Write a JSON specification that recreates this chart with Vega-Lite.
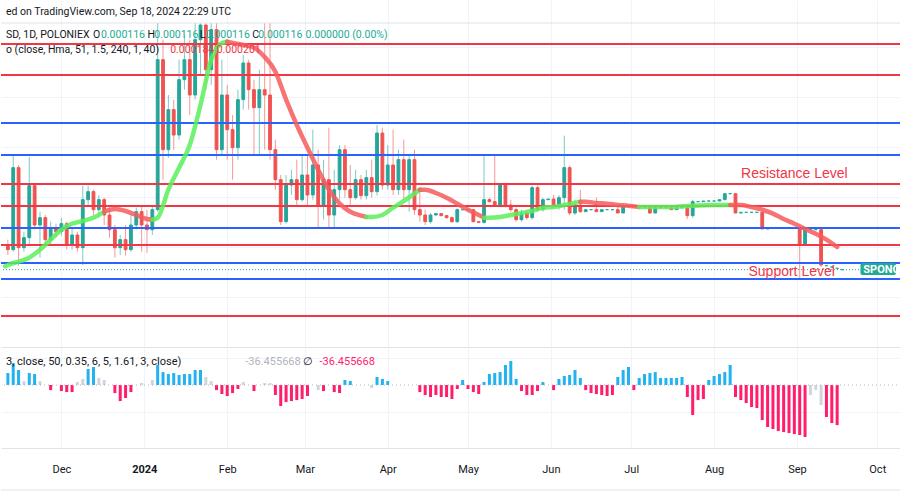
{
  "$schema": "https://vega.github.io/schema/vega-lite/v6.json",
  "padding": 0,
  "background": "#ffffff",
  "spacing": 0,
  "datasets": {
    "candles": [
      {"date":"2023-11-11","open":0.000153,"high":0.000161,"low":0.000138,"close":0.000146},
      {"date":"2023-11-13","open":0.000146,"high":0.000288,"low":0.000143,"close":0.000269},
      {"date":"2023-11-15","open":0.000269,"high":0.000273,"low":0.000122,"close":0.000149},
      {"date":"2023-11-17","open":0.000149,"high":0.000173,"low":0.000143,"close":0.000164},
      {"date":"2023-11-19","open":0.000164,"high":0.000285,"low":0.000153,"close":0.000242},
      {"date":"2023-11-21","open":0.000242,"high":0.000246,"low":0.000176,"close":0.000183},
      {"date":"2023-11-23","open":0.000183,"high":0.000203,"low":0.000134,"close":0.000194},
      {"date":"2023-11-25","open":0.000194,"high":0.000198,"low":0.000153,"close":0.000161},
      {"date":"2023-11-27","open":0.000161,"high":0.000188,"low":0.000153,"close":0.000179},
      {"date":"2023-11-29","open":0.000179,"high":0.000185,"low":0.000164,"close":0.000173},
      {"date":"2023-12-01","open":0.000173,"high":0.000194,"low":0.000167,"close":0.000185},
      {"date":"2023-12-03","open":0.000185,"high":0.000188,"low":0.000146,"close":0.000153},
      {"date":"2023-12-05","open":0.000153,"high":0.000179,"low":0.000146,"close":0.000168},
      {"date":"2023-12-07","open":0.000168,"high":0.000173,"low":0.000143,"close":0.000149},
      {"date":"2023-12-09","open":0.000149,"high":0.000242,"low":0.000123,"close":0.000221},
      {"date":"2023-12-11","open":0.000221,"high":0.000242,"low":0.000213,"close":0.000233},
      {"date":"2023-12-13","open":0.000233,"high":0.000236,"low":0.000198,"close":0.000206},
      {"date":"2023-12-15","open":0.000206,"high":0.000228,"low":0.000194,"close":0.000221},
      {"date":"2023-12-17","open":0.000221,"high":0.000224,"low":0.000183,"close":0.000198},
      {"date":"2023-12-19","open":0.000198,"high":0.000213,"low":0.000164,"close":0.000176},
      {"date":"2023-12-21","open":0.000176,"high":0.000183,"low":0.000134,"close":0.000149},
      {"date":"2023-12-23","open":0.000149,"high":0.000168,"low":0.000138,"close":0.000161},
      {"date":"2023-12-25","open":0.000161,"high":0.000183,"low":0.000137,"close":0.000146},
      {"date":"2023-12-27","open":0.000146,"high":0.000198,"low":0.000143,"close":0.000183},
      {"date":"2023-12-29","open":0.000183,"high":0.000209,"low":0.000176,"close":0.000203},
      {"date":"2023-12-31","open":0.000203,"high":0.000213,"low":0.000143,"close":0.000183},
      {"date":"2024-01-02","open":0.000183,"high":0.000206,"low":0.000141,"close":0.000176},
      {"date":"2024-01-04","open":0.000176,"high":0.000213,"low":0.000168,"close":0.000206},
      {"date":"2024-01-06","open":0.000206,"high":0.000486,"low":0.000203,"close":0.000431},
      {"date":"2024-01-08","open":0.000431,"high":0.000461,"low":0.000251,"close":0.000296},
      {"date":"2024-01-10","open":0.000296,"high":0.000378,"low":0.000284,"close":0.000356},
      {"date":"2024-01-12","open":0.000356,"high":0.000371,"low":0.000296,"close":0.000318},
      {"date":"2024-01-14","open":0.000318,"high":0.000431,"low":0.000311,"close":0.000401},
      {"date":"2024-01-16","open":0.000401,"high":0.000468,"low":0.000386,"close":0.000431},
      {"date":"2024-01-18","open":0.000431,"high":0.000461,"low":0.000348,"close":0.000378},
      {"date":"2024-01-20","open":0.000378,"high":0.000486,"low":0.000371,"close":0.000461},
      {"date":"2024-01-22","open":0.000461,"high":0.000486,"low":0.000408,"close":0.000483},
      {"date":"2024-01-24","open":0.000483,"high":0.000486,"low":0.000386,"close":0.000416},
      {"date":"2024-01-26","open":0.000416,"high":0.000486,"low":0.000393,"close":0.000476},
      {"date":"2024-01-28","open":0.000476,"high":0.000486,"low":0.000281,"close":0.000296},
      {"date":"2024-01-30","open":0.000296,"high":0.000431,"low":0.000288,"close":0.000378},
      {"date":"2024-02-01","open":0.000378,"high":0.000393,"low":0.000281,"close":0.000326},
      {"date":"2024-02-03","open":0.000326,"high":0.000348,"low":0.000251,"close":0.000299},
      {"date":"2024-02-05","open":0.000299,"high":0.000386,"low":0.000281,"close":0.000371},
      {"date":"2024-02-07","open":0.000371,"high":0.000438,"low":0.000356,"close":0.000426},
      {"date":"2024-02-09","open":0.000426,"high":0.000431,"low":0.000356,"close":0.000386},
      {"date":"2024-02-11","open":0.000386,"high":0.000401,"low":0.000288,"close":0.000359},
      {"date":"2024-02-13","open":0.000359,"high":0.000416,"low":0.000288,"close":0.000386},
      {"date":"2024-02-15","open":0.000386,"high":0.000486,"low":0.000296,"close":0.000378},
      {"date":"2024-02-17","open":0.000378,"high":0.000486,"low":0.000281,"close":0.000296},
      {"date":"2024-02-19","open":0.000296,"high":0.000311,"low":0.000236,"close":0.000251},
      {"date":"2024-02-21","open":0.000251,"high":0.000258,"low":0.000183,"close":0.000188},
      {"date":"2024-02-23","open":0.000188,"high":0.000258,"low":0.000185,"close":0.000243},
      {"date":"2024-02-25","open":0.000243,"high":0.000266,"low":0.000228,"close":0.000251},
      {"date":"2024-02-27","open":0.000251,"high":0.000281,"low":0.000213,"close":0.000221},
      {"date":"2024-02-29","open":0.000221,"high":0.000288,"low":0.000218,"close":0.000258},
      {"date":"2024-03-02","open":0.000258,"high":0.000288,"low":0.000213,"close":0.000228},
      {"date":"2024-03-04","open":0.000228,"high":0.000326,"low":0.000221,"close":0.000273},
      {"date":"2024-03-06","open":0.000273,"high":0.000296,"low":0.000179,"close":0.000213},
      {"date":"2024-03-08","open":0.000213,"high":0.000281,"low":0.000191,"close":0.000251},
      {"date":"2024-03-10","open":0.000251,"high":0.000329,"low":0.000179,"close":0.000198},
      {"date":"2024-03-12","open":0.000198,"high":0.000266,"low":0.000180,"close":0.000236},
      {"date":"2024-03-14","open":0.000236,"high":0.000303,"low":0.000221,"close":0.000296},
      {"date":"2024-03-16","open":0.000296,"high":0.000303,"low":0.000224,"close":0.000236},
      {"date":"2024-03-18","open":0.000236,"high":0.000273,"low":0.000213,"close":0.000224},
      {"date":"2024-03-20","open":0.000224,"high":0.000266,"low":0.000221,"close":0.000251},
      {"date":"2024-03-22","open":0.000251,"high":0.000258,"low":0.000221,"close":0.000227},
      {"date":"2024-03-24","open":0.000227,"high":0.000266,"low":0.000221,"close":0.000254},
      {"date":"2024-03-26","open":0.000254,"high":0.000281,"low":0.000224,"close":0.000233},
      {"date":"2024-03-28","open":0.000233,"high":0.000333,"low":0.000227,"close":0.000321},
      {"date":"2024-03-30","open":0.000321,"high":0.000329,"low":0.000236,"close":0.000243},
      {"date":"2024-04-01","open":0.000243,"high":0.000303,"low":0.000236,"close":0.000273},
      {"date":"2024-04-03","open":0.000273,"high":0.000326,"low":0.000228,"close":0.000236},
      {"date":"2024-04-05","open":0.000236,"high":0.000296,"low":0.000228,"close":0.000281},
      {"date":"2024-04-07","open":0.000281,"high":0.000311,"low":0.000221,"close":0.000236},
      {"date":"2024-04-09","open":0.000236,"high":0.000288,"low":0.000203,"close":0.000281},
      {"date":"2024-04-11","open":0.000281,"high":0.000296,"low":0.000198,"close":0.000206},
      {"date":"2024-04-13","open":0.000206,"high":0.000236,"low":0.000188,"close":0.000198},
      {"date":"2024-04-15","open":0.000198,"high":0.000206,"low":0.000183,"close":0.000188},
      {"date":"2024-04-17","open":0.000188,"high":0.000201,"low":0.000185,"close":0.000198},
      {"date":"2024-04-19","open":0.000198,"high":0.000201,"low":0.000197,"close":0.000200},
      {"date":"2024-04-21","open":0.000200,"high":0.000201,"low":0.000196,"close":0.000197},
      {"date":"2024-04-23","open":0.000197,"high":0.000198,"low":0.000193,"close":0.000194},
      {"date":"2024-04-25","open":0.000194,"high":0.000196,"low":0.000186,"close":0.000188},
      {"date":"2024-04-27","open":0.000188,"high":0.000208,"low":0.000186,"close":0.000206},
      {"date":"2024-04-29","open":0.000206,"high":0.000207,"low":0.000205,"close":0.000206},
      {"date":"2024-05-01","open":0.000206,"high":0.000207,"low":0.000205,"close":0.000206},
      {"date":"2024-05-03","open":0.000206,"high":0.000207,"low":0.000187,"close":0.000188},
      {"date":"2024-05-05","open":0.000188,"high":0.000188,"low":0.000187,"close":0.000187},
      {"date":"2024-05-07","open":0.000187,"high":0.000288,"low":0.000185,"close":0.000221},
      {"date":"2024-05-09","open":0.000221,"high":0.000224,"low":0.000217,"close":0.000218},
      {"date":"2024-05-11","open":0.000218,"high":0.000288,"low":0.000212,"close":0.000213},
      {"date":"2024-05-13","open":0.000213,"high":0.000246,"low":0.000212,"close":0.000243},
      {"date":"2024-05-15","open":0.000243,"high":0.000246,"low":0.000209,"close":0.000213},
      {"date":"2024-05-17","open":0.000213,"high":0.000221,"low":0.000203,"close":0.000206},
      {"date":"2024-05-19","open":0.000206,"high":0.000209,"low":0.000188,"close":0.000191},
      {"date":"2024-05-21","open":0.000191,"high":0.000206,"low":0.000188,"close":0.000201},
      {"date":"2024-05-23","open":0.000201,"high":0.000206,"low":0.000191,"close":0.000194},
      {"date":"2024-05-25","open":0.000194,"high":0.000242,"low":0.000191,"close":0.000239},
      {"date":"2024-05-27","open":0.000239,"high":0.000242,"low":0.000203,"close":0.000206},
      {"date":"2024-05-29","open":0.000206,"high":0.000224,"low":0.000203,"close":0.000221},
      {"date":"2024-05-31","open":0.000221,"high":0.000222,"low":0.000221,"close":0.000222},
      {"date":"2024-06-02","open":0.000222,"high":0.000228,"low":0.000209,"close":0.000213},
      {"date":"2024-06-04","open":0.000213,"high":0.000228,"low":0.000206,"close":0.000224},
      {"date":"2024-06-06","open":0.000224,"high":0.000317,"low":0.000206,"close":0.000269},
      {"date":"2024-06-08","open":0.000269,"high":0.000272,"low":0.000198,"close":0.000201},
      {"date":"2024-06-10","open":0.000201,"high":0.000221,"low":0.000198,"close":0.000213},
      {"date":"2024-06-12","open":0.000213,"high":0.000236,"low":0.000201,"close":0.000203},
      {"date":"2024-06-14","open":0.000203,"high":0.000206,"low":0.000203,"close":0.000206},
      {"date":"2024-06-16","open":0.000206,"high":0.000206,"low":0.000206,"close":0.000206},
      {"date":"2024-06-18","open":0.000206,"high":0.000224,"low":0.000203,"close":0.000203},
      {"date":"2024-06-20","open":0.000203,"high":0.000206,"low":0.000203,"close":0.000206},
      {"date":"2024-06-22","open":0.000206,"high":0.000206,"low":0.000206,"close":0.000206},
      {"date":"2024-06-24","open":0.000206,"high":0.000206,"low":0.000206,"close":0.000206},
      {"date":"2024-06-26","open":0.000206,"high":0.000213,"low":0.000201,"close":0.000201},
      {"date":"2024-06-28","open":0.000201,"high":0.000212,"low":0.000201,"close":0.000212},
      {"date":"2024-06-30","open":0.000212,"high":0.000212,"low":0.000212,"close":0.000212},
      {"date":"2024-07-02","open":0.000212,"high":0.000212,"low":0.000210,"close":0.000210},
      {"date":"2024-07-04","open":0.000210,"high":0.000210,"low":0.000210,"close":0.000210},
      {"date":"2024-07-06","open":0.000210,"high":0.000210,"low":0.000210,"close":0.000210},
      {"date":"2024-07-08","open":0.000210,"high":0.000213,"low":0.000200,"close":0.000201},
      {"date":"2024-07-10","open":0.000201,"high":0.000209,"low":0.000201,"close":0.000209},
      {"date":"2024-07-12","open":0.000209,"high":0.000209,"low":0.000209,"close":0.000209},
      {"date":"2024-07-14","open":0.000209,"high":0.000209,"low":0.000209,"close":0.000209},
      {"date":"2024-07-16","open":0.000209,"high":0.000209,"low":0.000206,"close":0.000206},
      {"date":"2024-07-18","open":0.000206,"high":0.000209,"low":0.000206,"close":0.000209},
      {"date":"2024-07-20","open":0.000209,"high":0.000209,"low":0.000209,"close":0.000209},
      {"date":"2024-07-22","open":0.000209,"high":0.000213,"low":0.000192,"close":0.000197},
      {"date":"2024-07-24","open":0.000197,"high":0.000221,"low":0.000194,"close":0.000218},
      {"date":"2024-07-26","open":0.000218,"high":0.000218,"low":0.000218,"close":0.000218},
      {"date":"2024-07-28","open":0.000218,"high":0.000219,"low":0.000218,"close":0.000219},
      {"date":"2024-07-30","open":0.000219,"high":0.000219,"low":0.000219,"close":0.000219},
      {"date":"2024-08-01","open":0.000219,"high":0.000219,"low":0.000219,"close":0.000219},
      {"date":"2024-08-03","open":0.000219,"high":0.000221,"low":0.000219,"close":0.000221},
      {"date":"2024-08-05","open":0.000221,"high":0.000230,"low":0.000221,"close":0.000230},
      {"date":"2024-08-07","open":0.000230,"high":0.000230,"low":0.000230,"close":0.000230},
      {"date":"2024-08-09","open":0.000230,"high":0.000231,"low":0.000201,"close":0.000201},
      {"date":"2024-08-11","open":0.000201,"high":0.000202,"low":0.000201,"close":0.000202},
      {"date":"2024-08-13","open":0.000202,"high":0.000202,"low":0.000202,"close":0.000202},
      {"date":"2024-08-15","open":0.000202,"high":0.000202,"low":0.000202,"close":0.000202},
      {"date":"2024-08-17","open":0.000202,"high":0.000202,"low":0.000202,"close":0.000202},
      {"date":"2024-08-19","open":0.000202,"high":0.000202,"low":0.000177,"close":0.000177},
      {"date":"2024-08-21","open":0.000177,"high":0.000178,"low":0.000177,"close":0.000178},
      {"date":"2024-08-23","open":0.000178,"high":0.000178,"low":0.000178,"close":0.000178},
      {"date":"2024-08-25","open":0.000178,"high":0.000178,"low":0.000178,"close":0.000178},
      {"date":"2024-08-27","open":0.000178,"high":0.000178,"low":0.000178,"close":0.000178},
      {"date":"2024-08-29","open":0.000178,"high":0.000178,"low":0.000178,"close":0.000178},
      {"date":"2024-08-31","open":0.000178,"high":0.000178,"low":0.000178,"close":0.000178},
      {"date":"2024-09-02","open":0.000178,"high":0.000178,"low":0.000101,"close":0.000153},
      {"date":"2024-09-04","open":0.000153,"high":0.000176,"low":0.000153,"close":0.000176},
      {"date":"2024-09-06","open":0.000176,"high":0.000176,"low":0.000176,"close":0.000176},
      {"date":"2024-09-08","open":0.000176,"high":0.000176,"low":0.000176,"close":0.000176},
      {"date":"2024-09-10","open":0.000176,"high":0.000176,"low":0.000120,"close":0.000123},
      {"date":"2024-09-12","open":0.000122,"high":0.000122,"low":0.000122,"close":0.000122},
      {"date":"2024-09-14","open":0.000120,"high":0.000120,"low":0.000120,"close":0.000120},
      {"date":"2024-09-16","open":0.000118,"high":0.000118,"low":0.000118,"close":0.000118},
      {"date":"2024-09-18","open":0.000116,"high":0.000116,"low":0.000116,"close":0.000116}
    ],
    "hma": [
      {"date":"2023-11-10","hma":0.000121,"trend":"up","seg":1},
      {"date":"2023-11-11","hma":0.000123,"trend":"up","seg":1},
      {"date":"2023-11-19","hma":0.000134,"trend":"up","seg":1},
      {"date":"2023-11-23","hma":0.000146,"trend":"up","seg":1},
      {"date":"2023-11-27","hma":0.000161,"trend":"up","seg":1},
      {"date":"2023-12-01","hma":0.000176,"trend":"up","seg":1},
      {"date":"2023-12-05","hma":0.000185,"trend":"up","seg":1},
      {"date":"2023-12-09","hma":0.000189,"trend":"up","seg":1},
      {"date":"2023-12-13","hma":0.000194,"trend":"up","seg":1},
      {"date":"2023-12-17","hma":0.000203,"trend":"up","seg":1},
      {"date":"2023-12-17","hma":0.000203,"trend":"down","seg":2},
      {"date":"2023-12-21","hma":0.000207,"trend":"down","seg":2},
      {"date":"2023-12-25","hma":0.000204,"trend":"down","seg":2},
      {"date":"2023-12-29","hma":0.000198,"trend":"down","seg":2},
      {"date":"2024-01-02","hma":0.000192,"trend":"down","seg":2},
      {"date":"2024-01-04","hma":0.000191,"trend":"down","seg":2},
      {"date":"2024-01-04","hma":0.000191,"trend":"up","seg":3},
      {"date":"2024-01-06","hma":0.000194,"trend":"up","seg":3},
      {"date":"2024-01-10","hma":0.000236,"trend":"up","seg":3},
      {"date":"2024-01-14","hma":0.000269,"trend":"up","seg":3},
      {"date":"2024-01-18","hma":0.000303,"trend":"up","seg":3},
      {"date":"2024-01-22","hma":0.000363,"trend":"up","seg":3},
      {"date":"2024-01-26","hma":0.000431,"trend":"up","seg":3},
      {"date":"2024-01-30","hma":0.000456,"trend":"up","seg":3},
      {"date":"2024-02-01","hma":0.000458,"trend":"up","seg":3},
      {"date":"2024-02-01","hma":0.000458,"trend":"down","seg":4},
      {"date":"2024-02-03","hma":0.000456,"trend":"down","seg":4},
      {"date":"2024-02-07","hma":0.000453,"trend":"down","seg":4},
      {"date":"2024-02-11","hma":0.000449,"trend":"down","seg":4},
      {"date":"2024-02-15","hma":0.000435,"trend":"down","seg":4},
      {"date":"2024-02-19","hma":0.000413,"trend":"down","seg":4},
      {"date":"2024-02-23","hma":0.000371,"trend":"down","seg":4},
      {"date":"2024-02-27","hma":0.000333,"trend":"down","seg":4},
      {"date":"2024-03-02","hma":0.000299,"trend":"down","seg":4},
      {"date":"2024-03-06","hma":0.000266,"trend":"down","seg":4},
      {"date":"2024-03-10","hma":0.000236,"trend":"down","seg":4},
      {"date":"2024-03-14","hma":0.000215,"trend":"down","seg":4},
      {"date":"2024-03-18","hma":0.000203,"trend":"down","seg":4},
      {"date":"2024-03-22","hma":0.000197,"trend":"down","seg":4},
      {"date":"2024-03-24","hma":0.000195,"trend":"down","seg":4},
      {"date":"2024-03-24","hma":0.000195,"trend":"up","seg":5},
      {"date":"2024-03-26","hma":0.000195,"trend":"up","seg":5},
      {"date":"2024-03-30","hma":0.000198,"trend":"up","seg":5},
      {"date":"2024-04-03","hma":0.000209,"trend":"up","seg":5},
      {"date":"2024-04-07","hma":0.000219,"trend":"up","seg":5},
      {"date":"2024-04-11","hma":0.000230,"trend":"up","seg":5},
      {"date":"2024-04-13","hma":0.000236,"trend":"up","seg":5},
      {"date":"2024-04-13","hma":0.000236,"trend":"down","seg":6},
      {"date":"2024-04-15","hma":0.000236,"trend":"down","seg":6},
      {"date":"2024-04-19","hma":0.000231,"trend":"down","seg":6},
      {"date":"2024-04-23","hma":0.000224,"trend":"down","seg":6},
      {"date":"2024-04-27","hma":0.000215,"trend":"down","seg":6},
      {"date":"2024-05-01","hma":0.000206,"trend":"down","seg":6},
      {"date":"2024-05-05","hma":0.000198,"trend":"down","seg":6},
      {"date":"2024-05-07","hma":0.000194,"trend":"down","seg":6},
      {"date":"2024-05-07","hma":0.000194,"trend":"up","seg":7},
      {"date":"2024-05-09","hma":0.000194,"trend":"up","seg":7},
      {"date":"2024-05-13","hma":0.000195,"trend":"up","seg":7},
      {"date":"2024-05-17","hma":0.000198,"trend":"up","seg":7},
      {"date":"2024-05-21","hma":0.000201,"trend":"up","seg":7},
      {"date":"2024-05-25","hma":0.000204,"trend":"up","seg":7},
      {"date":"2024-05-29","hma":0.000209,"trend":"up","seg":7},
      {"date":"2024-06-02","hma":0.000210,"trend":"up","seg":7},
      {"date":"2024-06-06","hma":0.000213,"trend":"up","seg":7},
      {"date":"2024-06-10","hma":0.000216,"trend":"up","seg":7},
      {"date":"2024-06-12","hma":0.000218,"trend":"up","seg":7},
      {"date":"2024-06-12","hma":0.000218,"trend":"down","seg":8},
      {"date":"2024-06-14","hma":0.000218,"trend":"down","seg":8},
      {"date":"2024-06-18","hma":0.000216,"trend":"down","seg":8},
      {"date":"2024-06-22","hma":0.000215,"trend":"down","seg":8},
      {"date":"2024-06-26","hma":0.000213,"trend":"down","seg":8},
      {"date":"2024-06-30","hma":0.000212,"trend":"down","seg":8},
      {"date":"2024-07-04","hma":0.000210,"trend":"down","seg":8},
      {"date":"2024-07-04","hma":0.000210,"trend":"up","seg":9},
      {"date":"2024-07-08","hma":0.000210,"trend":"up","seg":9},
      {"date":"2024-07-16","hma":0.000210,"trend":"up","seg":9},
      {"date":"2024-07-24","hma":0.000212,"trend":"up","seg":9},
      {"date":"2024-08-01","hma":0.000213,"trend":"up","seg":9},
      {"date":"2024-08-07","hma":0.000213,"trend":"up","seg":9},
      {"date":"2024-08-07","hma":0.000213,"trend":"down","seg":10},
      {"date":"2024-08-11","hma":0.000213,"trend":"down","seg":10},
      {"date":"2024-08-15","hma":0.000210,"trend":"down","seg":10},
      {"date":"2024-08-19","hma":0.000206,"trend":"down","seg":10},
      {"date":"2024-08-23","hma":0.000200,"trend":"down","seg":10},
      {"date":"2024-08-27","hma":0.000192,"trend":"down","seg":10},
      {"date":"2024-08-31","hma":0.000185,"trend":"down","seg":10},
      {"date":"2024-09-04","hma":0.000177,"trend":"down","seg":10},
      {"date":"2024-09-08","hma":0.000170,"trend":"down","seg":10},
      {"date":"2024-09-12","hma":0.000161,"trend":"down","seg":10},
      {"date":"2024-09-16","hma":0.000150,"trend":"down","seg":10}
    ],
    "osc": [
      {"date":"2023-11-11","value":10.9,"state":"bull"},
      {"date":"2023-11-13","value":20.0,"state":"bull"},
      {"date":"2023-11-15","value":13.7,"state":"bull"},
      {"date":"2023-11-17","value":3.6,"state":"neutral"},
      {"date":"2023-11-19","value":10.9,"state":"bull"},
      {"date":"2023-11-21","value":10.0,"state":"bull"},
      {"date":"2023-11-23","value":3.6,"state":"neutral"},
      {"date":"2023-11-27","value":-4.6,"state":"bear"},
      {"date":"2023-12-01","value":-5.5,"state":"bear"},
      {"date":"2023-12-03","value":-6.4,"state":"bear"},
      {"date":"2023-12-05","value":-6.4,"state":"bear"},
      {"date":"2023-12-07","value":2.7,"state":"neutral"},
      {"date":"2023-12-09","value":5.5,"state":"neutral"},
      {"date":"2023-12-11","value":14.6,"state":"bull"},
      {"date":"2023-12-13","value":16.4,"state":"bull"},
      {"date":"2023-12-15","value":6.4,"state":"neutral"},
      {"date":"2023-12-17","value":4.6,"state":"neutral"},
      {"date":"2023-12-21","value":-7.3,"state":"bear"},
      {"date":"2023-12-23","value":-14.6,"state":"bear"},
      {"date":"2023-12-25","value":-11.8,"state":"bear"},
      {"date":"2023-12-27","value":-6.4,"state":"bear"},
      {"date":"2023-12-31","value":1.8,"state":"neutral"},
      {"date":"2024-01-04","value":4.6,"state":"neutral"},
      {"date":"2024-01-06","value":18.2,"state":"bull"},
      {"date":"2024-01-08","value":11.8,"state":"bull"},
      {"date":"2024-01-10","value":10.0,"state":"bull"},
      {"date":"2024-01-12","value":10.9,"state":"bull"},
      {"date":"2024-01-14","value":9.1,"state":"bull"},
      {"date":"2024-01-16","value":10.0,"state":"bull"},
      {"date":"2024-01-18","value":10.0,"state":"bull"},
      {"date":"2024-01-20","value":13.7,"state":"bull"},
      {"date":"2024-01-22","value":13.7,"state":"bull"},
      {"date":"2024-01-24","value":7.3,"state":"neutral"},
      {"date":"2024-01-26","value":3.6,"state":"neutral"},
      {"date":"2024-01-28","value":-4.6,"state":"bear"},
      {"date":"2024-01-30","value":-8.2,"state":"bear"},
      {"date":"2024-02-01","value":-10.0,"state":"bear"},
      {"date":"2024-02-03","value":-7.3,"state":"bear"},
      {"date":"2024-02-05","value":-3.6,"state":"bear"},
      {"date":"2024-02-07","value":2.7,"state":"neutral"},
      {"date":"2024-02-11","value":-5.5,"state":"bear"},
      {"date":"2024-02-15","value":1.8,"state":"neutral"},
      {"date":"2024-02-17","value":1.8,"state":"neutral"},
      {"date":"2024-02-19","value":-9.1,"state":"bear"},
      {"date":"2024-02-21","value":-19.1,"state":"bear"},
      {"date":"2024-02-23","value":-15.5,"state":"bear"},
      {"date":"2024-02-25","value":-14.6,"state":"bear"},
      {"date":"2024-02-27","value":-13.7,"state":"bear"},
      {"date":"2024-02-29","value":-12.7,"state":"bear"},
      {"date":"2024-03-02","value":-10.0,"state":"bear"},
      {"date":"2024-03-06","value":-4.6,"state":"neutral"},
      {"date":"2024-03-08","value":-5.5,"state":"bear"},
      {"date":"2024-03-12","value":-6.4,"state":"bear"},
      {"date":"2024-03-14","value":-7.3,"state":"bear"},
      {"date":"2024-03-16","value":4.6,"state":"bull"},
      {"date":"2024-03-18","value":3.6,"state":"bull"},
      {"date":"2024-03-26","value":-2.7,"state":"neutral"},
      {"date":"2024-03-28","value":7.3,"state":"bull"},
      {"date":"2024-03-30","value":5.5,"state":"bull"},
      {"date":"2024-04-01","value":3.6,"state":"bull"},
      {"date":"2024-04-13","value":-6.4,"state":"bear"},
      {"date":"2024-04-15","value":-9.1,"state":"bear"},
      {"date":"2024-04-17","value":-10.9,"state":"bear"},
      {"date":"2024-04-19","value":-9.1,"state":"bear"},
      {"date":"2024-04-21","value":-10.9,"state":"bear"},
      {"date":"2024-04-23","value":-10.9,"state":"bear"},
      {"date":"2024-04-25","value":-12.7,"state":"bear"},
      {"date":"2024-04-27","value":-3.6,"state":"bear"},
      {"date":"2024-04-29","value":4.6,"state":"bull"},
      {"date":"2024-05-01","value":-3.6,"state":"bear"},
      {"date":"2024-05-03","value":-6.4,"state":"bear"},
      {"date":"2024-05-05","value":-8.2,"state":"bear"},
      {"date":"2024-05-07","value":2.7,"state":"bull"},
      {"date":"2024-05-09","value":10.0,"state":"bull"},
      {"date":"2024-05-11","value":10.9,"state":"bull"},
      {"date":"2024-05-13","value":11.8,"state":"bull"},
      {"date":"2024-05-15","value":18.2,"state":"bull"},
      {"date":"2024-05-17","value":21.8,"state":"bull"},
      {"date":"2024-05-19","value":5.5,"state":"bull"},
      {"date":"2024-05-21","value":-5.5,"state":"bear"},
      {"date":"2024-05-23","value":-9.1,"state":"bear"},
      {"date":"2024-05-25","value":-9.1,"state":"bear"},
      {"date":"2024-05-27","value":-5.5,"state":"bear"},
      {"date":"2024-05-29","value":2.7,"state":"bull"},
      {"date":"2024-06-02","value":-4.6,"state":"bear"},
      {"date":"2024-06-04","value":5.5,"state":"bull"},
      {"date":"2024-06-06","value":8.2,"state":"bull"},
      {"date":"2024-06-08","value":9.1,"state":"bull"},
      {"date":"2024-06-10","value":13.7,"state":"bull"},
      {"date":"2024-06-12","value":6.4,"state":"bull"},
      {"date":"2024-06-14","value":-4.6,"state":"bear"},
      {"date":"2024-06-16","value":-7.3,"state":"bear"},
      {"date":"2024-06-18","value":-8.2,"state":"bear"},
      {"date":"2024-06-20","value":-9.1,"state":"bear"},
      {"date":"2024-06-22","value":-10.0,"state":"bear"},
      {"date":"2024-06-24","value":-9.1,"state":"bear"},
      {"date":"2024-06-26","value":7.3,"state":"bull"},
      {"date":"2024-06-28","value":13.7,"state":"bull"},
      {"date":"2024-06-30","value":16.4,"state":"bull"},
      {"date":"2024-07-02","value":-4.6,"state":"bear"},
      {"date":"2024-07-04","value":6.4,"state":"bull"},
      {"date":"2024-07-06","value":10.0,"state":"bull"},
      {"date":"2024-07-08","value":10.9,"state":"bull"},
      {"date":"2024-07-10","value":11.8,"state":"bull"},
      {"date":"2024-07-12","value":6.4,"state":"bull"},
      {"date":"2024-07-14","value":6.4,"state":"bull"},
      {"date":"2024-07-16","value":6.4,"state":"bull"},
      {"date":"2024-07-18","value":6.4,"state":"bull"},
      {"date":"2024-07-20","value":7.3,"state":"bull"},
      {"date":"2024-07-22","value":-10.9,"state":"bear"},
      {"date":"2024-07-24","value":-27.3,"state":"bear"},
      {"date":"2024-07-26","value":-13.7,"state":"bear"},
      {"date":"2024-07-28","value":-12.7,"state":"bear"},
      {"date":"2024-07-30","value":4.6,"state":"bull"},
      {"date":"2024-08-01","value":8.2,"state":"bull"},
      {"date":"2024-08-03","value":10.0,"state":"bull"},
      {"date":"2024-08-05","value":11.8,"state":"bull"},
      {"date":"2024-08-07","value":18.2,"state":"bull"},
      {"date":"2024-08-09","value":-10.9,"state":"bear"},
      {"date":"2024-08-11","value":-13.7,"state":"bear"},
      {"date":"2024-08-13","value":-16.4,"state":"bear"},
      {"date":"2024-08-15","value":-20.0,"state":"bear"},
      {"date":"2024-08-17","value":-20.9,"state":"bear"},
      {"date":"2024-08-19","value":-31.9,"state":"bear"},
      {"date":"2024-08-21","value":-38.2,"state":"bear"},
      {"date":"2024-08-23","value":-40.0,"state":"bear"},
      {"date":"2024-08-25","value":-41.9,"state":"bear"},
      {"date":"2024-08-27","value":-42.8,"state":"bear"},
      {"date":"2024-08-29","value":-43.7,"state":"bear"},
      {"date":"2024-08-31","value":-44.6,"state":"bear"},
      {"date":"2024-09-02","value":-45.5,"state":"bear"},
      {"date":"2024-09-04","value":-47.3,"state":"bear"},
      {"date":"2024-09-06","value":-9.1,"state":"neutral"},
      {"date":"2024-09-08","value":-4.6,"state":"neutral"},
      {"date":"2024-09-10","value":-18.2,"state":"neutral"},
      {"date":"2024-09-12","value":-29.1,"state":"bear"},
      {"date":"2024-09-14","value":-34.6,"state":"bear"},
      {"date":"2024-09-16","value":-36.46,"state":"bear"}
    ],
    "levels": [
      {"price":0.000486,"kind":"frame"},
      {"price":0.0004545,"kind":"red"},
      {"price":0.000408,"kind":"red"},
      {"price":0.000336,"kind":"blue"},
      {"price":0.000288,"kind":"blue"},
      {"price":0.0002445,"kind":"red"},
      {"price":0.0002115,"kind":"red"},
      {"price":0.0001785,"kind":"blue"},
      {"price":0.000153,"kind":"red"},
      {"price":0.000126,"kind":"blue"},
      {"price":0.000102,"kind":"blue"},
      {"price":0.0000465,"kind":"red"}
    ],
    "notes": [
      {"date":"2024-08-31","price":0.0002595,"text":"Resistance Level"},
      {"date":"2024-08-30","price":0.0001125,"text":"Support Level"}
    ],
    "tag": [
      {"start":"2024-09-24T17:00:00Z","end":"2024-10-08T00:00:00Z","textstart":"2024-09-25T19:00:00Z","low":0.000108,"high":0.000126,"price":0.000116,"label":"SPONGEUSD"}
    ],
    "header": [
      {"date":"2023-11-10T07:12:00Z","price":0.0005025,"text":"ed on TradingView.com, Sep 18, 2024 22:29 UTC","role":"label"},
      {"date":"2023-11-10T07:12:00Z","price":0.000468,"text":"SD, 1D, POLONIEX","role":"label"},
      {"date":"2023-12-12T20:00:00Z","price":0.000468,"text":"O","role":"label"},
      {"date":"2023-12-15T19:00:00Z","price":0.000468,"text":"0.000116","role":"up"},
      {"date":"2024-01-02T04:00:00Z","price":0.000468,"text":"H","role":"label"},
      {"date":"2024-01-04T18:00:00Z","price":0.000468,"text":"0.000116","role":"up"},
      {"date":"2024-01-21T18:00:00Z","price":0.000468,"text":"L","role":"label"},
      {"date":"2024-01-23T23:00:00Z","price":0.000468,"text":"0.000116","role":"up"},
      {"date":"2024-02-10T08:00:00Z","price":0.000468,"text":"C","role":"label"},
      {"date":"2024-02-12T14:00:00Z","price":0.000468,"text":"0.000116","role":"up"},
      {"date":"2024-03-01T07:00:00Z","price":0.000468,"text":"0.000000 (0.00%)","role":"up"},
      {"date":"2023-11-10T07:12:00Z","price":0.0004455,"text":"o (close, Hma, 51, 1.5, 240, 1, 40)","role":"label"},
      {"date":"2024-01-10T16:00:00Z","price":0.0004455,"text":"0.000184","role":"down"},
      {"date":"2024-01-28T01:00:00Z","price":0.0004455,"text":"0.000201","role":"down"}
    ],
    "osclabel": [
      {"date":"2023-11-10T07:12:00Z","value":20.9,"text":"3, close, 50, 0.35, 6, 5, 1.61, 3, close)","role":"label"},
      {"date":"2024-02-07T18:00:00Z","value":20.9,"text":"-36.455668","role":"muted"},
      {"date":"2024-02-29T05:00:00Z","value":20.9,"text":"∅","role":"label"},
      {"date":"2024-03-06T12:00:00Z","value":20.9,"text":"-36.455668","role":"bear"}
    ]
  },
  "vconcat": [
    {
      "width": 900,
      "height": 347,
      "layer": [
        {
          "data": {"name": "candles"},
          "mark": {"type": "rule", "strokeWidth": 1, "opacity": 0.6, "clip": true},
          "encoding": {
            "x": {"field": "date", "type": "temporal",
              "scale": {"type": "utc", "domain": [{"year":2023,"month":11,"date":10,"hours":7,"minutes":12,"utc":true},{"year":2024,"month":10,"date":8,"utc":true}]},
              "axis": {"values": [{"year":2023,"month":12,"date":1,"utc":true},{"year":2024,"month":1,"date":1,"utc":true},{"year":2024,"month":2,"date":1,"utc":true},{"year":2024,"month":3,"date":1,"utc":true},{"year":2024,"month":4,"date":1,"utc":true},{"year":2024,"month":5,"date":1,"utc":true},{"year":2024,"month":6,"date":1,"utc":true},{"year":2024,"month":7,"date":1,"utc":true},{"year":2024,"month":8,"date":1,"utc":true},{"year":2024,"month":9,"date":1,"utc":true},{"year":2024,"month":10,"date":1,"utc":true}],
                "grid": true, "gridColor": "#f0f3fa", "labels": false, "ticks": false, "domain": true, "domainColor": "#e0e3eb", "title": null, "minExtent": 0, "maxExtent": 0}},
            "y": {"field": "low", "type": "quantitative",
              "scale": {"domain": [0, 0.0005205], "nice": false, "zero": false},
              "axis": {"orient": "right", "values": [0.000075, 0.00015, 0.000225, 0.0003, 0.000375, 0.00045], "grid": true, "gridColor": "#f0f3fa", "labels": false, "ticks": false, "domain": false, "title": null, "minExtent": 0, "maxExtent": 0}},
            "y2": {"field": "high"},
            "color": {"condition": {"test": "datum.close >= datum.open", "value": "#26a69a"}, "value": "#ef5350"}
          }
        },
        {
          "data": {"name": "candles"},
          "mark": {"type": "bar", "size": 2.8, "strokeWidth": 1, "clip": true},
          "encoding": {
            "x": {"field": "date", "type": "temporal"},
            "y": {"field": "open", "type": "quantitative"},
            "y2": {"field": "close"},
            "color": {"condition": {"test": "datum.close >= datum.open", "value": "#26a69a"}, "value": "#ef5350"},
            "stroke": {"condition": {"test": "datum.close >= datum.open", "value": "#26a69a"}, "value": "#ef5350"}
          }
        },
        {
          "data": {"name": "levels"},
          "mark": {"type": "rule", "clip": true},
          "encoding": {
            "y": {"field": "price", "type": "quantitative"},
            "color": {"condition": [{"test": "datum.kind == 'red'", "value": "#f23645"}, {"test": "datum.kind == 'frame'", "value": "#e0e3eb"}], "value": "#2962ff"},
            "strokeWidth": {"condition": {"test": "datum.kind == 'frame'", "value": 1}, "value": 2}
          }
        },
        {
          "data": {"name": "tag"},
          "mark": {"type": "rule", "strokeWidth": 1, "strokeDash": [1, 2], "color": "#22ab94", "clip": true},
          "encoding": {"y": {"field": "price", "type": "quantitative"}}
        },
        {
          "data": {"name": "hma"},
          "mark": {"type": "line", "strokeWidth": 4.5, "opacity": 0.85, "strokeCap": "round", "strokeJoin": "round", "interpolate": "monotone", "clip": true},
          "encoding": {
            "x": {"field": "date", "type": "temporal"},
            "y": {"field": "hma", "type": "quantitative"},
            "color": {"field": "trend", "type": "nominal", "scale": {"domain": ["up", "down"], "range": ["#5bef5b", "#f65c5c"]}, "legend": null},
            "detail": {"field": "seg", "type": "nominal"}
          }
        },
        {
          "data": {"name": "notes"},
          "mark": {"type": "text", "font": "Liberation Sans", "fontSize": 14, "color": "#f23645", "align": "center", "baseline": "middle"},
          "encoding": {
            "x": {"field": "date", "type": "temporal"},
            "y": {"field": "price", "type": "quantitative"},
            "text": {"field": "text"}
          }
        },
        {
          "data": {"name": "tag"},
          "mark": {"type": "rect", "color": "#22ab94", "cornerRadius": 2, "clip": true},
          "encoding": {
            "x": {"field": "start", "type": "temporal"},
            "x2": {"field": "end"},
            "y": {"field": "low", "type": "quantitative"},
            "y2": {"field": "high"}
          }
        },
        {
          "data": {"name": "tag"},
          "mark": {"type": "text", "color": "#ffffff", "fontWeight": "bold", "fontSize": 11, "font": "Roboto", "align": "left", "baseline": "middle", "clip": true},
          "encoding": {
            "x": {"field": "textstart", "type": "temporal"},
            "y": {"field": "price", "type": "quantitative"},
            "text": {"field": "label"}
          }
        },
        {
          "data": {"name": "header"},
          "mark": {"type": "text", "font": "Roboto", "fontSize": 10.5, "align": "left", "baseline": "middle", "clip": true},
          "encoding": {
            "x": {"field": "date", "type": "temporal"},
            "y": {"field": "price", "type": "quantitative"},
            "text": {"field": "text"},
            "color": {"condition": [{"test": "datum.role == 'up'", "value": "#22ab94"}, {"test": "datum.role == 'down'", "value": "#f23645"}], "value": "#131722"}
          }
        }
      ]
    },
    {
      "width": 900,
      "height": 101,
      "layer": [
        {
          "data": {"name": "osc"},
          "mark": {"type": "bar", "size": 3, "clip": true},
          "encoding": {
            "x": {"field": "date", "type": "temporal",
              "scale": {"type": "utc", "domain": [{"year":2023,"month":11,"date":10,"hours":7,"minutes":12,"utc":true},{"year":2024,"month":10,"date":8,"utc":true}]},
              "axis": {"values": [{"year":2023,"month":12,"date":1,"utc":true},{"year":2024,"month":1,"date":1,"utc":true},{"year":2024,"month":2,"date":1,"utc":true},{"year":2024,"month":3,"date":1,"utc":true},{"year":2024,"month":4,"date":1,"utc":true},{"year":2024,"month":5,"date":1,"utc":true},{"year":2024,"month":6,"date":1,"utc":true},{"year":2024,"month":7,"date":1,"utc":true},{"year":2024,"month":8,"date":1,"utc":true},{"year":2024,"month":9,"date":1,"utc":true},{"year":2024,"month":10,"date":1,"utc":true}],
                "grid": true, "gridColor": "#f0f3fa", "ticks": false, "domain": true, "domainColor": "#e0e3eb", "title": null,
                "labelExpr": "utcFormat(datum.value, '%m') == '01' ? utcFormat(datum.value, '%Y') : utcFormat(datum.value, '%b')",
                "labelFontWeight": {"condition": {"test": "utcFormat(datum.value, '%m') == '01'", "value": "bold"}, "value": "normal"},
                "labelFont": "Roboto", "labelFontSize": 11, "labelColor": "#131722", "labelPadding": 15, "labelOverlap": false, "labelFlush": false}},
            "y": {"field": "value", "type": "quantitative",
              "scale": {"domain": [-57.3, 34.6], "nice": false, "zero": false},
              "axis": {"orient": "right", "values": [24.6, -24.6], "grid": true, "gridColor": "#f0f3fa", "labels": false, "ticks": false, "domain": false, "title": null, "minExtent": 0, "maxExtent": 0}},
            "y2": {"datum": 0},
            "color": {"condition": [{"test": "datum.state == 'bull'", "value": "#22b2ef"}, {"test": "datum.state == 'bear'", "value": "#ff1d6c"}], "value": "#d1d4dc"}
          }
        },
        {
          "data": {"values": [{"zero": 0}]},
          "mark": {"type": "rule", "strokeDash": [1, 3], "color": "#b2b5be", "strokeWidth": 1, "clip": true},
          "encoding": {"y": {"field": "zero", "type": "quantitative"}}
        },
        {
          "data": {"name": "osclabel"},
          "mark": {"type": "text", "font": "Roboto", "fontSize": 11, "align": "left", "baseline": "middle", "clip": true},
          "encoding": {
            "x": {"field": "date", "type": "temporal"},
            "y": {"field": "value", "type": "quantitative"},
            "text": {"field": "text"},
            "color": {"condition": [{"test": "datum.role == 'muted'", "value": "#b2b5be"}, {"test": "datum.role == 'bear'", "value": "#ff1d6c"}], "value": "#131722"}
          }
        }
      ]
    },
    {
      "width": 900,
      "height": 16,
      "data": {"values": [{"edge": 0}]},
      "mark": {"type": "rule", "color": "#e0e3eb", "strokeWidth": 1},
      "encoding": {
        "y": {"field": "edge", "type": "quantitative", "scale": {"domain": [0, 1]}, "axis": null}
      }
    }
  ],
  "config": {
    "view": {"stroke": null},
    "axis": {"title": null},
    "font": "Roboto"
  }
}
